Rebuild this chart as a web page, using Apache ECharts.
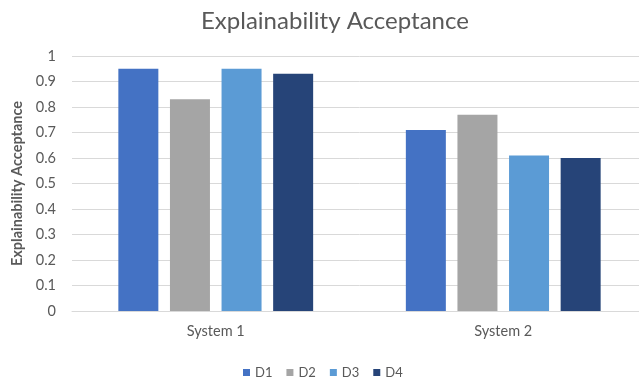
<!DOCTYPE html>
<html>
<head>
<meta charset="utf-8">
<script src="https://cdn.jsdelivr.net/npm/echarts@6/dist/echarts.min.js"></script>
<style>
  html, body { margin: 0; padding: 0; background: #fff; overflow: hidden; }
  /* the plot runs slightly past the right edge of the view */
  #chart { width: 647px; height: 381px; }
</style>
</head>
<body>
<div id="chart"></div>
<script>
// Category labels on the x axis
const systems = ['System 1', 'System 2'];
// Acceptance scores per dataset
const d1 = [0.95, 0.71];
const d2 = [0.83, 0.77];
const d3 = [0.95, 0.61];
const d4 = [0.93, 0.60];
const seriesNames = ['D1', 'D2', 'D3', 'D4'];
const seriesColors = ['#4472C4', '#A5A5A5', '#5B9BD5', '#264478'];

const font = 'Lato, "Liberation Sans", sans-serif';
const textGrey = '#595959';

const chart = echarts.init(document.getElementById('chart'), null, { renderer: 'canvas' });

const makeSeries = (name, data, color) => ({
  name,
  type: 'bar',
  data,
  barWidth: 40,
  barGap: '29%',
  itemStyle: { color },
  emphasis: { disabled: true }
});

chart.setOption({
  animation: false,
  backgroundColor: '#ffffff',
  title: {
    text: 'Explainability Acceptance',
    left: 196,
    top: 4,
    textStyle: { fontFamily: font, fontSize: 24, fontWeight: 'normal', color: textGrey }
  },
  legend: {
    top: 361,
    left: 238,
    itemWidth: 7,
    itemHeight: 7,
    itemGap: 14,
    icon: 'rect',
    textStyle: { fontFamily: font, fontSize: 13, color: textGrey },
    data: seriesNames
  },
  grid: { left: 72, top: 56, right: 0, height: 255, containLabel: false },
  xAxis: {
    type: 'category',
    data: systems,
    axisLine: { lineStyle: { color: '#D9D9D9', width: 1 } },
    axisTick: { show: false },
    axisLabel: { fontFamily: font, fontSize: 14.5, color: textGrey, margin: 13 }
  },
  yAxis: {
    type: 'value',
    min: 0,
    max: 1,
    interval: 0.1,
    name: 'Explainability Acceptance',
    nameLocation: 'middle',
    nameGap: 46,
    nameRotate: 90,
    nameTextStyle: { fontFamily: font, fontSize: 14.5, fontWeight: 'bold', color: textGrey },
    axisLine: { show: false },
    axisTick: { show: false },
    splitLine: { lineStyle: { color: '#D9D9D9', width: 1 } },
    axisLabel: {
      fontFamily: font, fontSize: 14.5, color: textGrey, margin: 16,
      formatter: v => String(Math.round(v * 10) / 10)
    }
  },
  series: [
    makeSeries(seriesNames[0], d1, seriesColors[0]),
    makeSeries(seriesNames[1], d2, seriesColors[1]),
    makeSeries(seriesNames[2], d3, seriesColors[2]),
    makeSeries(seriesNames[3], d4, seriesColors[3])
  ]
});
</script>
</body>
</html>
